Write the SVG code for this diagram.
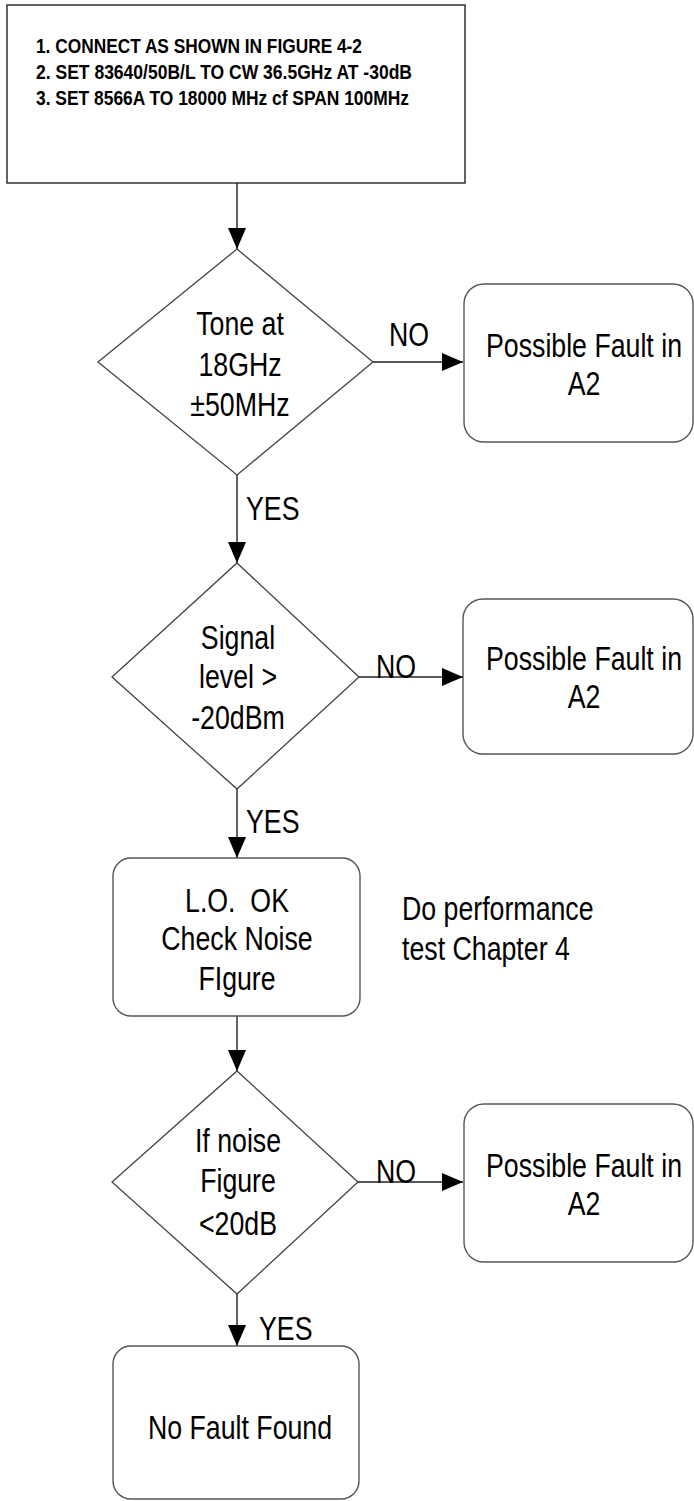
<svg xmlns="http://www.w3.org/2000/svg" width="694" height="1501" viewBox="0 0 694 1501">
<style>
.bg{fill:#fff}
.box{fill:#fff;stroke:#222;stroke-width:1.4}
.rbox{fill:#fff;stroke:#555;stroke-width:1.4}
.dia{fill:#fff;stroke:#444;stroke-width:1.3}
.con{fill:none;stroke:#222;stroke-width:1.4}
.t{font-family:"Liberation Sans",Arial,sans-serif;font-size:33px;fill:#000;text-anchor:middle}
.ts{font-family:"Liberation Sans",Arial,sans-serif;font-size:33px;fill:#000;text-anchor:start}
.tb{font-family:"Liberation Sans",Arial,sans-serif;font-size:21px;font-weight:bold;fill:#000}
</style>
<defs>
<marker id="arr" markerUnits="userSpaceOnUse" markerWidth="22" markerHeight="20" refX="21" refY="10" orient="auto">
<path d="M0,1 L21,10 L0,19 Z" fill="#000"/>
</marker>
</defs>
<rect class="bg" x="0" y="0" width="694" height="1501"/>

<g id="connectors">
<line class="con" x1="237" y1="183" x2="237" y2="249" marker-end="url(#arr)"/>
<line class="con" x1="373" y1="362" x2="463" y2="362" marker-end="url(#arr)"/>
<line class="con" x1="237" y1="475" x2="237" y2="563" marker-end="url(#arr)"/>
<line class="con" x1="359" y1="677" x2="463" y2="677" marker-end="url(#arr)"/>
<line class="con" x1="237" y1="789" x2="237" y2="858" marker-end="url(#arr)"/>
<line class="con" x1="237" y1="1016" x2="237" y2="1071" marker-end="url(#arr)"/>
<line class="con" x1="358" y1="1182" x2="463" y2="1182" marker-end="url(#arr)"/>
<line class="con" x1="237" y1="1294" x2="237" y2="1346" marker-end="url(#arr)"/>
<text class="ts" transform="translate(389 346) scale(0.81 1)">NO</text>
<text class="ts" transform="translate(376 678) scale(0.81 1)">NO</text>
<text class="ts" transform="translate(376 1183) scale(0.81 1)">NO</text>
<text class="ts" transform="translate(246 520) scale(0.81 1)">YES</text>
<text class="ts" transform="translate(246 833) scale(0.81 1)">YES</text>
<text class="ts" transform="translate(259 1340) scale(0.81 1)">YES</text>
</g>

<g id="start">
<rect class="box" x="7" y="5" width="458" height="178"/>
<text class="tb" x="36" y="53" textLength="326" lengthAdjust="spacingAndGlyphs">1. CONNECT AS SHOWN IN FIGURE 4-2</text>
<text class="tb" x="36" y="79" textLength="376" lengthAdjust="spacingAndGlyphs">2. SET 83640/50B/L TO CW 36.5GHz AT -30dB</text>
<text class="tb" x="36" y="105" textLength="373" lengthAdjust="spacingAndGlyphs">3. SET 8566A TO 18000 MHz cf SPAN 100MHz</text>
</g>

<g id="d1">
<polygon class="dia" points="237,249 373,362 237,475 98,362"/>
<text class="t" transform="translate(240 335) scale(0.81 1)">Tone at</text>
<text class="t" transform="translate(240 376) scale(0.81 1)">18GHz</text>
<text class="t" transform="translate(240 416) scale(0.81 1)">±50MHz</text>
</g>

<g id="f1">
<rect class="rbox" x="464" y="284" width="229" height="158" rx="20" ry="20"/>
<text class="t" transform="translate(584 357) scale(0.81 1)">Possible Fault in</text>
<text class="t" transform="translate(584 395) scale(0.81 1)">A2</text>
</g>

<g id="d2">
<polygon class="dia" points="237,563 359,677 237,789 112,677"/>
<text class="t" transform="translate(238 649) scale(0.81 1)">Signal</text>
<text class="t" transform="translate(238 688) scale(0.81 1)">level &gt;</text>
<text class="t" transform="translate(238 729) scale(0.81 1)">-20dBm</text>
</g>

<g id="f2">
<rect class="rbox" x="463" y="599" width="230" height="155" rx="20" ry="20"/>
<text class="t" transform="translate(584 670) scale(0.81 1)">Possible Fault in</text>
<text class="t" transform="translate(584 708) scale(0.81 1)">A2</text>
</g>

<g id="lo">
<rect class="rbox" x="113" y="858" width="247" height="158" rx="18" ry="18"/>
<text class="t" transform="translate(237 912) scale(0.81 1)" xml:space="preserve">L.O.  OK</text>
<text class="t" transform="translate(237 950) scale(0.81 1)">Check Noise</text>
<text class="t" transform="translate(237 990) scale(0.81 1)">FIgure</text>
</g>

<g id="note">
<text class="ts" transform="translate(402 920) scale(0.81 1)">Do performance</text>
<text class="ts" transform="translate(402 960) scale(0.81 1)">test Chapter 4</text>
</g>

<g id="d3">
<polygon class="dia" points="237,1071 358,1182 237,1294 112,1182"/>
<text class="t" transform="translate(238 1152) scale(0.81 1)">If noise</text>
<text class="t" transform="translate(238 1192) scale(0.81 1)">Figure</text>
<text class="t" transform="translate(238 1235) scale(0.81 1)">&lt;20dB</text>
</g>

<g id="f3">
<rect class="rbox" x="464" y="1104" width="229" height="158" rx="20" ry="20"/>
<text class="t" transform="translate(584 1177) scale(0.81 1)">Possible Fault in</text>
<text class="t" transform="translate(584 1215) scale(0.81 1)">A2</text>
</g>

<g id="nff">
<rect class="rbox" x="113" y="1346" width="246" height="153" rx="18" ry="18"/>
<text class="t" transform="translate(240 1439) scale(0.81 1)">No Fault Found</text>
</g>
</svg>
